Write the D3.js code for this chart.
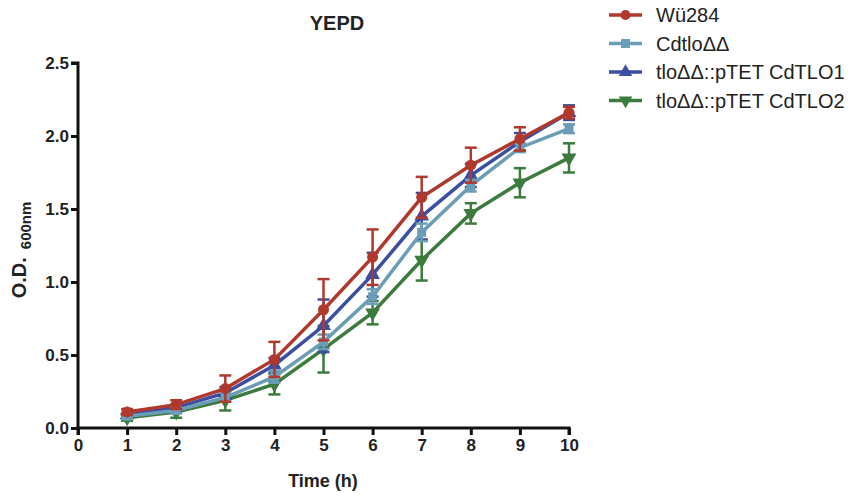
<!DOCTYPE html>
<html>
<head>
<meta charset="utf-8">
<script src="https://cdn.jsdelivr.net/npm/d3@7"></script>
<style>
  body { margin: 0; background: #fff; }
  text { font-family: "Liberation Sans", Arial, sans-serif; }
</style>
</head>
<body>
<div id="chart"></div>
<script>
var times = [1, 2, 3, 4, 5, 6, 7, 8, 9, 10];
var names = ["Wü284", "CdtloΔΔ", "tloΔΔ::pTET CdTLO1", "tloΔΔ::pTET CdTLO2"];
var wu284 = [0.11, 0.16, 0.27, 0.47, 0.81, 1.17, 1.58, 1.80, 1.98, 2.16];
var wu284Err = [0.02, 0.03, 0.09, 0.12, 0.21, 0.19, 0.14, 0.12, 0.08, 0.04];
var cdtlo = [0.08, 0.12, 0.21, 0.35, 0.59, 0.90, 1.34, 1.66, 1.92, 2.05];
var cdtloErr = [0.01, 0.02, 0.03, 0.04, 0.05, 0.05, 0.06, 0.04, 0.03, 0.03];
var tlo1 = [0.09, 0.14, 0.24, 0.43, 0.70, 1.05, 1.45, 1.73, 1.96, 2.16];
var tlo1Err = [0.01, 0.02, 0.04, 0.05, 0.18, 0.15, 0.16, 0.08, 0.06, 0.05];
var tlo2 = [0.07, 0.11, 0.19, 0.30, 0.54, 0.79, 1.15, 1.47, 1.68, 1.85];
var tlo2Err = [0.02, 0.04, 0.07, 0.07, 0.16, 0.08, 0.14, 0.07, 0.10, 0.10];
var xTicks = [0, 1, 2, 3, 4, 5, 6, 7, 8, 9, 10];
var yTicks = [0, 0.5, 1.0, 1.5, 2.0, 2.5];

var width = 855, height = 496;
var colors = ["#b0382c", "#6b9db7", "#3a4ea2", "#3b7b3d"];
var shapes = [d3.symbolCircle, d3.symbolSquare, d3.symbolTriangle, d3.symbolTriangle];

var series = [wu284, cdtlo, tlo1, tlo2].map((vals, i) => ({
  name: names[i],
  color: colors[i],
  shape: shapes[i],
  flip: i == 3,
  pts: vals.map((v, j) => ({ t: times[j], v: v, e: [wu284Err, cdtloErr, tlo1Err, tlo2Err][i][j] }))
}));

const x = d3.scaleLinear().domain([0, 10]).range([78, 569]);
const y = d3.scaleLinear().domain([0, 2.5]).range([428, 63]);

const svg = d3.select("#chart").append("svg")
  .attr("width", width)
  .attr("height", height);

// axes
const xAxis = svg.append("g")
  .attr("transform", `translate(0,${y(0)})`)
  .call(d3.axisBottom(x).tickValues(xTicks).tickFormat(d3.format("d")).tickSize(7).tickPadding(4));
const yAxis = svg.append("g")
  .attr("transform", `translate(${x(0)},0)`)
  .call(d3.axisLeft(y).tickValues(yTicks).tickFormat(d3.format(".1f")).tickSize(7).tickPadding(2));
[xAxis, yAxis].forEach(g => {
  g.select(".domain").attr("stroke", "#111").attr("stroke-width", 3);
  g.selectAll(".tick line").attr("stroke", "#111").attr("stroke-width", 3);
  g.selectAll(".tick text")
    .attr("fill", "#222")
    .attr("font-size", 17)
    .attr("font-weight", "bold")
    .style("font-family", "'Liberation Sans', Arial, sans-serif");
});
xAxis.select(".domain").attr("d", `M${x(0)},7V0H${x(10)}V7`);
yAxis.select(".domain").attr("d", `M-7,${y(2.5)}H0V${y(0)}`);

// title and axis labels
svg.append("text")
  .attr("x", 337).attr("y", 30)
  .attr("text-anchor", "middle")
  .attr("font-size", 20).attr("font-weight", "bold")
  .attr("fill", "#222")
  .text("YEPD");

svg.append("text")
  .attr("x", 323).attr("y", 487)
  .attr("text-anchor", "middle")
  .attr("font-size", 18).attr("font-weight", "bold")
  .attr("fill", "#222")
  .text("Time (h)");

const ylab = svg.append("text")
  .attr("transform", "translate(26,250) rotate(-90)")
  .attr("text-anchor", "middle")
  .attr("font-weight", "bold")
  .attr("fill", "#222");
ylab.append("tspan").attr("font-size", 20).text("O.D.");
ylab.append("tspan").attr("font-size", 15).attr("dx", 8).attr("dy", 5).text("600nm");

// series (drawn back to front so Wü284 sits on top)
const line = d3.line().x(d => x(d.t)).y(d => y(d.v));
const sym = d3.symbol();

series.slice().reverse().forEach(s => {
  const g = svg.append("g");
  g.append("path")
    .attr("d", line(s.pts))
    .attr("fill", "none")
    .attr("stroke", s.color)
    .attr("stroke-width", 3.5);
  const eb = g.selectAll(".eb").data(s.pts).join("g")
    .attr("stroke", s.color).attr("stroke-width", 2.5);
  eb.append("line")
    .attr("x1", d => x(d.t)).attr("x2", d => x(d.t))
    .attr("y1", d => y(d.v - d.e)).attr("y2", d => y(d.v + d.e));
  eb.append("line")
    .attr("x1", d => x(d.t) - 6).attr("x2", d => x(d.t) + 6)
    .attr("y1", d => y(d.v + d.e)).attr("y2", d => y(d.v + d.e));
  eb.append("line")
    .attr("x1", d => x(d.t) - 6).attr("x2", d => x(d.t) + 6)
    .attr("y1", d => y(d.v - d.e)).attr("y2", d => y(d.v - d.e));
  g.selectAll(".pt").data(s.pts).join("path")
    .attr("d", sym.type(s.shape).size(s.shape == d3.symbolSquare ? 80 : 95)())
    .attr("transform", d => `translate(${x(d.t)},${y(d.v)})` + (s.flip ? " rotate(180)" : ""))
    .attr("fill", s.color);
});

// legend
const leg = svg.append("g").attr("transform", "translate(609,15)");
series.forEach((s, i) => {
  const r = leg.append("g").attr("transform", `translate(0,${i * 28.5})`);
  r.append("line").attr("x1", 0).attr("x2", 33).attr("stroke", s.color).attr("stroke-width", 3.5);
  r.append("path")
    .attr("d", sym.type(s.shape).size(80)())
    .attr("transform", "translate(16.5,0)" + (s.flip ? " rotate(180)" : ""))
    .attr("fill", s.color);
  r.append("text")
    .attr("x", 47).attr("y", 7)
    .attr("font-size", 20)
    .attr("fill", "#222")
    .text(s.name);
});
</script>
</body>
</html>
